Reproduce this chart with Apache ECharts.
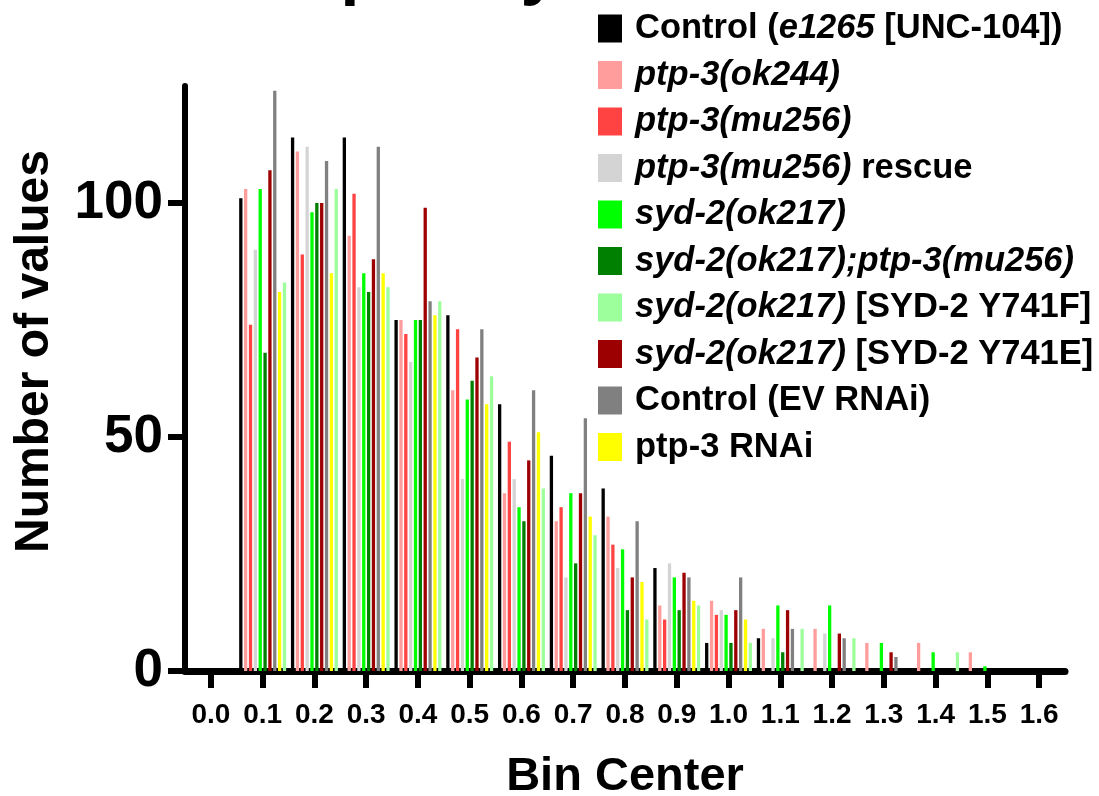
<!DOCTYPE html>
<html>
<head>
<meta charset="utf-8">
<script src="https://cdn.jsdelivr.net/npm/echarts@6/dist/echarts.min.js"></script>
<style>
html,body{margin:0;padding:0;background:#fff;}
#chart{width:1099px;height:796px;}
</style>
</head>
<body>
<div id="chart"></div>
<script>
// Bin centers (axis categories) and tick labels
const binLabels = ['0.0','0.1','0.2','0.3','0.4','0.5','0.6','0.7','0.8','0.9','1.0','1.1','1.2','1.3','1.4','1.5','1.6'];
const yTicks = [0, 50, 100];

// Counts per bin (0.1 .. 1.5)
const controlUnc104 = [101,114,114,75,76,57,46,39,22,6,7,0,0,0,0];
const ptp3ok244     = [103,111,93,75,60,38,32,33,14,15,9,9,6,6,4];
const ptp3mu256     = [74,89,102,72,73,49,35,27,11,12,0,0,0,0,0];
const ptp3Rescue    = [90,112,82,66,41,41,20,22,23,13,7,8,0,0,0];
const syd2ok217     = [103,98,85,75,58,35,38,26,20,12,14,14,6,4,1];
const syd2ptp3      = [68,100,81,75,62,32,23,13,13,6,4,0,0,0,0];
const syd2Y741E     = [107,100,88,99,67,45,38,20,21,13,13,8,4,0,0];
const controlEV     = [124,109,112,79,73,60,54,32,20,20,9,7,3,0,0];
const ptp3RNAi      = [81,85,85,76,57,51,33,19,15,11,0,0,0,0,0];
const syd2Y741F     = [83,103,82,79,63,39,29,11,14,6,9,7,0,4,0];

// Series in bar order within each bin
const seriesNames = [
  'Control (e1265 [UNC-104])','ptp-3(ok244)','ptp-3(mu256)','ptp-3(mu256) rescue',
  'syd-2(ok217)','syd-2(ok217);ptp-3(mu256)','syd-2(ok217) [SYD-2 Y741E]',
  'Control (EV RNAi)','ptp-3 RNAi','syd-2(ok217) [SYD-2 Y741F]'
];
const seriesValues = [controlUnc104,ptp3ok244,ptp3mu256,ptp3Rescue,syd2ok217,syd2ptp3,syd2Y741E,controlEV,ptp3RNAi,syd2Y741F];
const seriesColors = ['#000000','#FF9C9C','#FF4242','#D4D4D4','#00FF00','#008000','#9C0000','#808080','#FFFF00','#9CFF9C'];

// Legend order
const legendOrder = [
  'Control (e1265 [UNC-104])','ptp-3(ok244)','ptp-3(mu256)','ptp-3(mu256) rescue',
  'syd-2(ok217)','syd-2(ok217);ptp-3(mu256)','syd-2(ok217) [SYD-2 Y741F]',
  'syd-2(ok217) [SYD-2 Y741E]','Control (EV RNAi)','ptp-3 RNAi'
];
const legendRich = {
  'Control (e1265 [UNC-104])': '{n|Control (}{i|e1265}{n| [UNC-104])}',
  'ptp-3(ok244)': '{i|ptp-3(ok244)}',
  'ptp-3(mu256)': '{i|ptp-3(mu256)}',
  'ptp-3(mu256) rescue': '{i|ptp-3(mu256)}{n| rescue}',
  'syd-2(ok217)': '{i|syd-2(ok217)}',
  'syd-2(ok217);ptp-3(mu256)': '{i|syd-2(ok217);ptp-3(mu256)}',
  'syd-2(ok217) [SYD-2 Y741F]': '{i|syd-2(ok217)}{n| [SYD-2 Y741F]}',
  'syd-2(ok217) [SYD-2 Y741E]': '{i|syd-2(ok217)}{n| [SYD-2 Y741E]}',
  'Control (EV RNAi)': '{n|Control (EV RNAi)}',
  'ptp-3 RNAi': '{n|ptp-3 RNAi}'
};

const FONT = "'Liberation Sans', Arial, sans-serif";
const LEG = 34.5;
const chart = echarts.init(document.getElementById('chart'), null, {renderer:'canvas'});

const series = seriesNames.map((name, k) => ({
  name: name,
  type: 'bar',
  data: [null].concat(seriesValues[k]).concat([null]),
  barWidth: 3.3,
  barGap: '47%',
  itemStyle: { color: seriesColors[k] },
  emphasis: { disabled: true },
  animation: false
}));

chart.setOption({
  animation: false,
  backgroundColor: '#ffffff',
  title: {
    text: 'Frequency distribution',
    left: 210,
    top: -62,
    padding: 0,
    textStyle: { fontFamily: FONT, fontSize: 69, lineHeight: 69, fontWeight: 'bold', color: '#000' }
  },
  legend: {
    orient: 'vertical',
    left: 598,
    top: 11,
    padding: 0,
    itemWidth: 24,
    itemHeight: 28,
    itemGap: 11.5,
    icon: 'rect',
    data: legendOrder,
    formatter: name => legendRich[name],
    textStyle: {
      fontFamily: FONT, fontSize: LEG, fontWeight: 'bold', color: '#000',
      padding: [0,0,0,8],
      rich: {
        n: { fontFamily: FONT, fontSize: LEG, fontWeight: 'bold', color: '#000' },
        i: { fontFamily: FONT, fontSize: LEG, fontWeight: 'bold', fontStyle: 'italic', color: '#000' }
      }
    },
    selectedMode: false
  },
  grid: { left: 185, right: 34, top: 86, bottom: 125, containLabel: false, outerBoundsMode: 'none' },
  xAxis: {
    type: 'category',
    data: binLabels,
    boundaryGap: true,
    name: 'Bin Center',
    nameLocation: 'middle',
    nameGap: 83,
    nameTextStyle: { fontFamily: FONT, fontSize: 47, fontWeight: 'bold', color: '#000' },
    axisLine: { show: true, onZero: false, lineStyle: { color: '#000', width: 7 } },
    axisTick: { show: true, alignWithLabel: true, interval: 0, length: 17, lineStyle: { color: '#000', width: 6 } },
    axisLabel: { interval: 0, margin: 30, fontFamily: FONT, fontSize: 28, fontWeight: 'bold', color: '#000' },
    splitLine: { show: false }
  },
  yAxis: {
    type: 'value',
    min: 0,
    max: 125,
    interval: 50,
    name: 'Number of values',
    nameLocation: 'middle',
    nameGap: 126,
    nameRotate: 90,
    nameTextStyle: { fontFamily: FONT, fontSize: 48, fontWeight: 'bold', color: '#000', padding: [0,0,0,54] },
    axisLine: { show: true, lineStyle: { color: '#000', width: 6 } },
    axisTick: { show: true, length: 17, customValues: yTicks, lineStyle: { color: '#000', width: 6 } },
    axisLabel: { margin: 22, customValues: yTicks, fontFamily: FONT, fontSize: 53, fontWeight: 'bold', color: '#000' },
    splitLine: { show: false }
  },
  series: series
});
</script>
</body>
</html>
